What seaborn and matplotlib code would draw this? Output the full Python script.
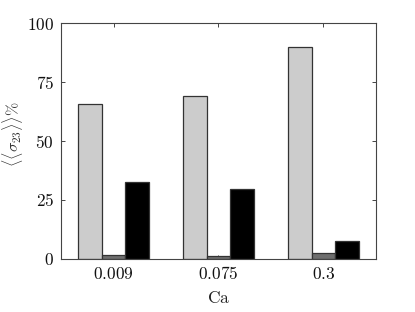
import pandas as pd
import seaborn as sns
import matplotlib.pyplot as plt

ca_labels = ["0.009", "0.075", "0.3"]
series = ["a", "b", "c"]
vals_a = [65.5, 69.2, 89.8]
vals_b = [1.7, 1.4, 2.4]
vals_c = [32.8, 29.5, 7.8]
colors = ["#cccccc", "#6e6e6e", "#000000"]

rows = []
for i, ca in enumerate(ca_labels):
    rows.append({"Ca": ca, "s": "a", "v": vals_a[i]})
    rows.append({"Ca": ca, "s": "b", "v": vals_b[i]})
    rows.append({"Ca": ca, "s": "c", "v": vals_c[i]})
df = pd.DataFrame(rows)

sns.set_style("white")
plt.rcParams['mathtext.fontset'] = 'cm'
plt.rcParams['font.family'] = ['serif']
plt.rcParams['font.serif'] = ['DejaVu Serif']

fig = plt.figure(figsize=(4.15, 3.12), dpi=100)
ax = fig.add_axes([0.147, 0.170, 0.759, 0.756])
sns.barplot(data=df, x="Ca", y="v", hue="s", hue_order=series, order=ca_labels,
            palette=colors, width=0.67, gap=0, edgecolor="#333333", linewidth=0.9,
            legend=False, ax=ax)

ax.set_xlim(-0.5, 2.5)
ax.set_ylim(0, 100)
ax.set_yticks([0, 25, 50, 75, 100])
ax.set_yticklabels([f"${t}$" for t in [0, 25, 50, 75, 100]], fontsize=12.5)
ax.set_xticks([0, 1, 2])
ax.set_xticklabels([f"${c}$" for c in ca_labels], fontsize=12.5)
ax.set_xlabel(r"$\mathrm{Ca}$", fontsize=12.5, color="#222222", labelpad=5)
ax.set_ylabel(r"$\langle\langle\sigma_{23}\rangle\rangle\%$", fontsize=11.5, color="#333333")
ax.yaxis.set_label_coords(-0.115, 0.53)
ax.tick_params(direction="in", length=3, width=0.7, color="#444444", top=True, right=True,
               bottom=True, left=True, labelcolor="#111111", pad=5)
for sp in ax.spines.values():
    sp.set_visible(True)
    sp.set_color("#444444")
    sp.set_linewidth(0.8)

fig.savefig("out.png", dpi=100)
